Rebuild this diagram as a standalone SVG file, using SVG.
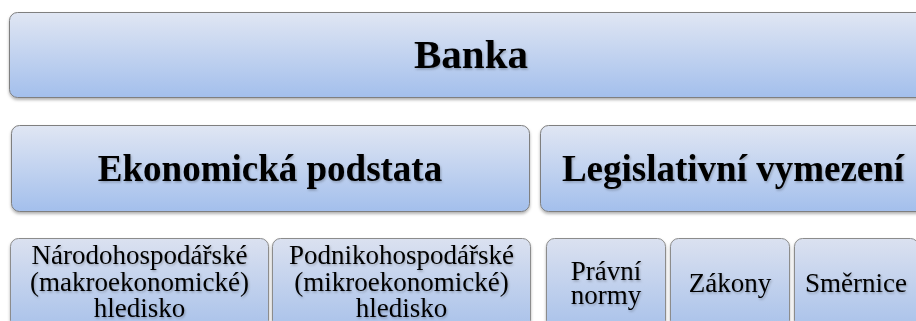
<svg xmlns="http://www.w3.org/2000/svg" width="916" height="321" viewBox="0 0 916 321">
<defs>
<linearGradient id="g1" x1="0" y1="0" x2="0" y2="1">
<stop offset="0" stop-color="#e0e6f3"/>
<stop offset="1" stop-color="#a3bfec"/>
</linearGradient>
<linearGradient id="g3" x1="0" y1="0" x2="0" y2="1">
<stop offset="0" stop-color="#dbe1f0"/>
<stop offset="1" stop-color="#a9c2ea"/>
</linearGradient>
<filter id="sh" x="-5%" y="-10%" width="110%" height="130%">
<feDropShadow dx="0" dy="2" stdDeviation="1.5" flood-color="#000" flood-opacity="0.3"/>
</filter>
<filter id="ts" x="-5%" y="-20%" width="110%" height="140%">
<feDropShadow dx="1" dy="1.5" stdDeviation="1" flood-color="#000" flood-opacity="0.25"/>
</filter>
</defs>
<style>
.b1{fill:url(#g1);stroke:#7f7f7f;stroke-width:1;filter:url(#sh)}
.b3{fill:url(#g3);stroke:#8c8c8c;stroke-width:1;filter:url(#sh)}
text{font-family:"Liberation Serif","Times New Roman",serif;fill:#000;text-anchor:middle;filter:url(#ts)}
.h{font-weight:bold}
.t1{font-size:41px}
.t2{font-size:37px}
.t3{font-size:27px}
</style>
<rect width="916" height="321" fill="#fff"/>
<g id="connectors"/>
<g id="banka">
<rect class="b1" x="9.5" y="12.5" width="924" height="85" rx="8"/>
<text class="h t1" x="471" y="68">Banka</text>
</g>
<g id="ekonomicka">
<rect class="b1" x="11.5" y="125.5" width="518" height="86" rx="8"/>
<text class="h t2" x="270" y="181">Ekonomická podstata</text>
</g>
<g id="legislativni">
<rect class="b1" x="540.5" y="125.5" width="386" height="86" rx="8"/>
<text class="h t2" x="733" y="181">Legislativní vymezení</text>
</g>
<g id="narodohospodarske">
<rect class="b3" x="10.5" y="238.5" width="258" height="90" rx="8"/>
<text class="t3" x="139.5" y="264">Národohospodářské</text>
<text class="t3" x="139.5" y="290.5">(makroekonomické)</text>
<text class="t3" x="139.5" y="317">hledisko</text>
</g>
<g id="podnikohospodarske">
<rect class="b3" x="272.5" y="238.5" width="258" height="90" rx="8"/>
<text class="t3" x="401.5" y="264">Podnikohospodářské</text>
<text class="t3" x="401.5" y="290.5">(mikroekonomické)</text>
<text class="t3" x="401.5" y="317">hledisko</text>
</g>
<g id="pravni-normy">
<rect class="b3" x="546.5" y="238.5" width="119" height="90" rx="8"/>
<text class="t3" x="606" y="280">Právní</text>
<text class="t3" x="606" y="304">normy</text>
</g>
<g id="zakony">
<rect class="b3" x="670.5" y="238.5" width="119" height="90" rx="8"/>
<text class="t3" x="730" y="292">Zákony</text>
</g>
<g id="smernice">
<rect class="b3" x="794.5" y="238.5" width="124" height="90" rx="8"/>
<text class="t3" x="856" y="292">Směrnice</text>
</g>
</svg>
